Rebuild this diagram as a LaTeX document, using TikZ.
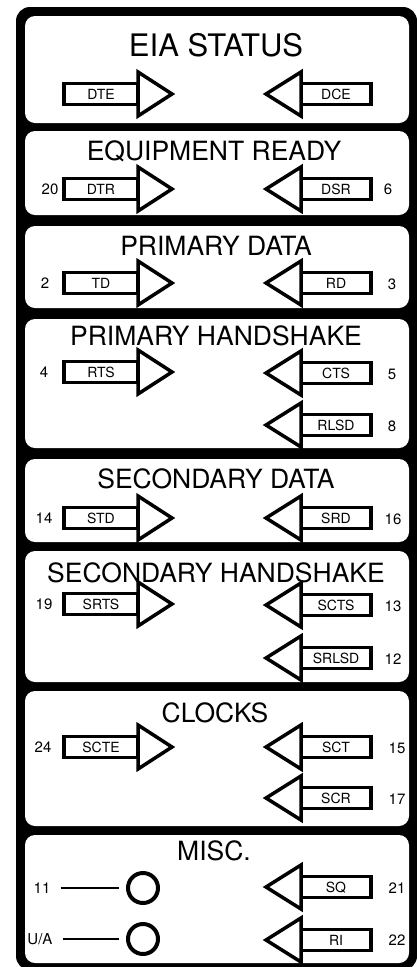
\documentclass[tikz,border=0pt]{standalone}
\usepackage{fontspec}
\setmainfont{TeX Gyre Heros}
\tikzset{
  arr/.style={draw=black, fill=white, line width=3.5pt, line join=miter},
  lab/.style={inner sep=0pt, text height=10pt, text depth=0pt, font=\fontsize{14}{14}\selectfont},
  num/.style={inner sep=0pt, text height=10.6pt, text depth=0pt, font=\fontsize{15}{15}\selectfont},
  ttl/.style={inner sep=0pt, anchor=base, font=\fontsize{26.5}{28}\selectfont},
  bigttl/.style={inner sep=0pt, anchor=base, font=\fontsize{31}{33}\selectfont},
  panel/.style={fill=white, rounded corners=10pt},
  lamp/.style={circle, draw=black, line width=4pt, minimum size=30pt, inner sep=0pt},
  wire/.style={draw=black, line width=1.5pt},
}
\newcommand{\RArr}[3]{%
  \draw[arr] (64,#2-10.5) rectangle (138,#2+10.5);
  \draw[arr] (138,#2-22) -- (172,#2) -- (138,#2+22) -- cycle;
  \node[lab] (#1) at (101,#2) {#3};}
\newcommand{\LArr}[3]{%
  \draw[arr] (301,#2-10.5) rectangle (371,#2+10.5);
  \draw[arr] (301,#2-22) -- (266,#2) -- (301,#2+22) -- cycle;
  \node[lab] (#1) at (336,#2) {#3};}
\begin{document}
\begin{tikzpicture}[x=1pt,y=-1pt]
\useasboundingbox (0,0) rectangle (417,967);
% outer frame
\fill[black, rounded corners=14pt] (16,7) rectangle (417,970);
% panels
\fill[panel] (25,16) rectangle (409,123);
\fill[panel] (25,131) rectangle (409,215);
\fill[panel] (25,226) rectangle (409,308);
\fill[panel] (25,319) rectangle (409,448);
\fill[panel] (25,459) rectangle (409,542);
\fill[panel] (25,551) rectangle (409,682);
\fill[panel] (25,691) rectangle (409,826);
\fill[panel] (25,835) rectangle (409,963);
% titles
\node[bigttl] (t1) at (216,56) {EIA STATUS};
\node[ttl] (t2) at (214,160) {EQUIPMENT READY};
\node[ttl] (t3) at (216,255) {PRIMARY DATA};
\node[ttl] (t4) at (216,345) {PRIMARY HANDSHAKE};
\node[ttl] (t5) at (216,488) {SECONDARY DATA};
\node[ttl] (t6) at (216,582) {SECONDARY HANDSHAKE};
\node[ttl] (t7) at (215,722) {CLOCKS};
\node[ttl] (t8) at (214,860) {MISC.};
% panel 1
\RArr{dte}{94}{DTE}
\LArr{dce}{94}{DCE}
% panel 2
\RArr{dtr}{189}{DTR}
\LArr{dsr}{189}{DSR}
\node[num] (n20) at (50,189) {20};
\node[num] (n6) at (388,189) {6};
% panel 3
\RArr{td}{283}{TD}
\LArr{rd}{283}{RD}
\node[num] (n2) at (45,283) {2};
\node[num] (n3) at (392,284) {3};
% panel 4
\RArr{rts}{372}{RTS}
\LArr{cts}{373}{CTS}
\LArr{rlsd}{425}{RLSD}
\node[num] (n4) at (44,372) {4};
\node[num] (n5) at (392,374) {5};
\node[num] (n8) at (392,426) {8};
% panel 5
\RArr{std}{518}{STD}
\LArr{srd}{518}{SRD}
\node[num] (n14) at (44,518) {14};
\node[num] (n16) at (393,519) {16};
% panel 6
\RArr{srts}{604}{SRTS}
\LArr{scts}{605}{SCTS}
\LArr{srlsd}{658}{SRLSD}
\node[num] (n19) at (44,604) {19};
\node[num] (n13) at (393,606) {13};
\node[num] (n12) at (393,659) {12};
% panel 7
\RArr{scte}{747}{SCTE}
\LArr{sct}{747}{SCT}
\LArr{scr}{798}{SCR}
\node[num] (n24) at (43,747) {24};
\node[num] (n15) at (397,748) {15};
\node[num] (n17) at (397,799) {17};
% panel 8
\node[lamp] (c11) at (143,888) {};
\node[lamp] (cua) at (143,939) {};
\node[num] (n11) at (42,888) {11};
\node[num] (nua) at (40,939) {U/A};
\draw[wire] ([xshift=10pt]n11.east) -- ([xshift=-7pt]c11.west);
\draw[wire] ([xshift=10pt]nua.east) -- ([xshift=-7pt]cua.west);
\LArr{sq}{887}{SQ}
\LArr{ri}{940}{RI}
\node[num] (n21) at (397,888) {21};
\node[num] (n22) at (397,940) {22};
\end{tikzpicture}
\end{document}
